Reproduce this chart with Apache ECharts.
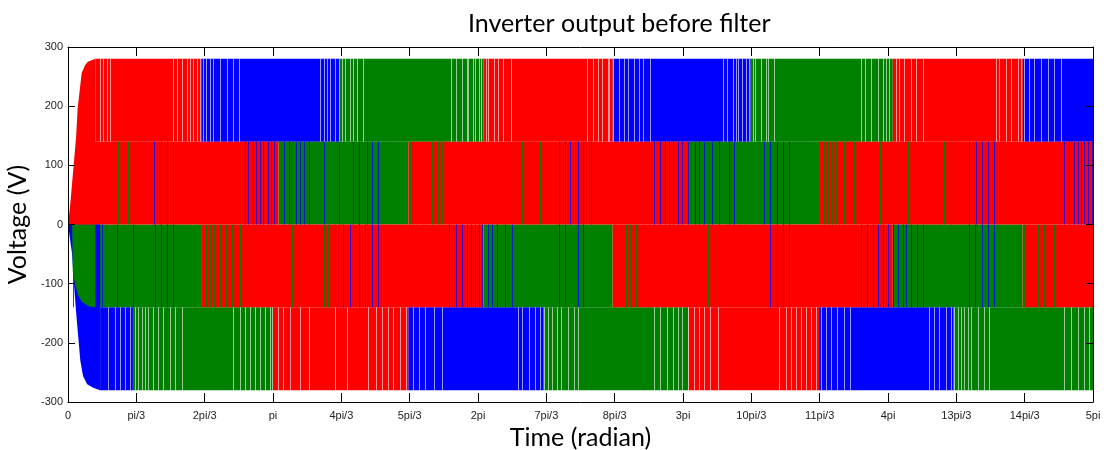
<!DOCTYPE html>
<html><head><meta charset="utf-8">
<script src="https://cdn.jsdelivr.net/npm/echarts@6/dist/echarts.min.js"></script>
<style>html,body{margin:0;padding:0;background:#fff}#c{width:1108px;height:450px}</style>
</head><body><div id="c"></div>
<script>
// x values are in units of pi/3 radians (0 .. 15 = 5pi)
const tickLabels = ['0','pi/3','2pi/3','pi','4pi/3','5pi/3','2pi','7pi/3','8pi/3','3pi','10pi/3','11pi/3','4pi','13pi/3','14pi/3','5pi'];

// solid regions [xStart, xEnd, vLow, vHigh] per phase
const redBlocks = [
  [0.40,1.96,140,280],[6.08,7.97,140,280],[12.07,13.97,140,280],
  [0.12,3.08,0,140],[4.98,9.08,0,140],[10.99,15,0,140],
  [1.96,6.08,-140,0],[7.97,12.07,-140,0],[13.97,15,-140,0],
  [3.00,4.98,-280,-140],[9.08,10.99,-280,-140]
];
const greenBlocks = [
  [3.98,6.08,140,280],[9.99,12.07,140,280],
  [3.08,4.98,0,140],[9.08,10.99,0,140],
  [0.40,1.96,-140,0],[6.08,7.97,-140,0],[12.07,13.97,-140,0],
  [0.95,3.00,-280,-140],[6.96,9.08,-280,-140],[12.96,15,-280,-140]
];
const blueBlocks = [
  [1.96,3.98,140,280],[7.97,9.99,140,280],[13.97,15,140,280],
  [0.47,0.95,-280,-140],[4.98,6.96,-280,-140],[10.99,12.96,-280,-140]
];

// start-up transients (envelopes)
const redRamp = [[0,0],[0.03,30],[0.06,70],[0.09,110],[0.12,150],[0.14,195],[0.20,256],[0.25,269],[0.29,275],[0.40,280]];
const blueRamp = [[0,0],[0.06,-50],[0.09,-105],[0.12,-150],[0.15,-190],[0.18,-230],[0.22,-256],[0.28,-270],[0.37,-276],[0.47,-280]];
const greenRamp = [[0.06,0],[0.07,-80],[0.10,-100],[0.15,-120],[0.20,-130],[0.30,-138],[0.40,-140]];

// brief switching pulses visible inside the middle bands
const greenUpperPulses = [0.26,0.35,0.66,0.73,0.80,0.88,5.01,5.05,5.11,5.19,5.23,5.33,5.41,5.48,6.28,6.37,6.65,6.74,6.81,6.90,
  11.06,11.12,11.18,11.24,11.29,11.35,11.43,11.50,11.60,11.70,11.89,12.29,12.66,12.74,12.82,12.92];
const blueUpperPulses = [1.26,1.36,1.45,1.54,2.59,2.64,2.70,2.75,2.81,2.86,2.92,2.97,3.02,
  3.16,3.24,3.33,3.40,3.46,3.52,3.74,3.96,4.17,4.26,4.37,4.45,4.54,
  7.18,7.27,7.35,7.46,7.54,7.65,8.57,8.67,8.74,8.79,8.86,8.92,8.99,9.08,
  9.17,9.23,9.30,9.43,9.52,9.67,9.74,10.18,10.27,10.37,10.46,10.55,
  13.18,13.29,13.37,13.46,13.55,14.57,14.65,14.72,14.78,14.82,14.87,14.93,14.99];
const greenLowerPulses = [2.02,2.08,2.14,2.23,2.31,2.40,2.52,3.28,3.65,3.74,3.81,3.91,
  8.01,8.09,8.16,8.23,8.31,8.41,8.50,9.29,9.36,9.65,9.73,9.82,9.90,
  13.99,14.06,14.12,14.19,14.28,14.35,14.43,14.50];
const blueLowerPulses = [0.07,0.16,0.22,0.28,0.35,0.42,0.50,0.72,0.95,1.27,1.36,1.45,1.54,
  4.03,4.13,4.26,4.35,4.45,4.54,5.58,5.68,5.77,5.84,5.90,5.96,6.01,6.06,
  6.14,6.21,6.28,6.40,6.50,7.18,7.28,7.46,7.54,
  10.27,10.37,10.46,10.55,11.60,11.70,11.78,11.85,11.92,12.00,12.07,
  12.14,12.22,12.26,12.33,12.42,12.51,13.18,13.27,13.37,13.46,13.55];

// instants where no phase sits on the outer levels (white gaps)
const topGaps = [0.47,0.51,0.57,0.62,1.54,1.60,1.67,1.74,1.79,1.83,1.89,1.93,1.98,2.02,2.08,2.12,2.23,2.33,2.42,2.50,
  3.69,3.74,3.79,3.84,3.91,3.96,4.01,4.06,4.13,4.17,4.23,4.32,5.60,5.68,5.77,5.84,5.86,5.92,5.96,6.01,6.05,
  6.11,6.15,6.23,6.30,6.37,6.49,7.60,7.68,7.75,7.82,7.90,7.92,7.98,8.06,8.13,8.20,8.28,8.35,8.42,8.51,
  9.58,9.65,9.73,9.77,9.81,9.87,9.92,9.96,10.02,10.06,10.14,10.21,10.25,10.33,
  11.60,11.67,11.75,11.85,11.92,11.97,12.01,12.11,12.16,12.23,12.33,12.41,12.51,
  13.58,13.62,13.73,13.80,13.90,13.94,13.99,14.06,14.14,14.24,14.34,14.43,14.53];
const bottomGaps = [0.59,0.69,0.76,0.83,0.91,0.98,1.03,1.08,1.13,1.17,1.25,1.32,1.39,1.49,1.57,1.67,
  2.42,2.52,2.59,2.67,2.74,2.81,2.89,2.96,2.99,3.08,3.15,3.25,3.40,3.52,3.91,4.09,4.39,4.50,4.60,4.69,4.76,4.86,4.94,
  5.05,5.13,5.23,5.35,5.48,6.59,6.65,6.74,6.84,6.91,6.96,7.02,7.09,7.16,7.21,7.31,7.40,7.47,
  8.57,8.67,8.77,8.86,8.93,8.99,9.08,9.16,9.23,9.30,9.40,9.51,10.40,10.50,10.58,10.65,10.72,10.80,10.87,10.94,
  11.02,11.09,11.16,11.26,11.35,11.45,12.60,12.67,12.74,12.85,12.92,12.96,13.02,13.07,13.11,13.17,13.21,13.32,13.40,13.48,
  14.57,14.68,14.78,14.87,14.94];

const RED = '#ff0000', GREEN = '#008000', BLUE = '#0000ff';

function rectItem(color) {
  return function (params, api) {
    const p0 = api.coord([api.value(0), api.value(3)]);
    const p1 = api.coord([api.value(1), api.value(2)]);
    return { type: 'rect', shape: { x: p0[0], y: p0[1], width: p1[0] - p0[0], height: p1[1] - p0[1] },
      style: { fill: color } };
  };
}
function lineItem(color, opacity) {
  return function (params, api) {
    const a = api.coord([api.value(0), api.value(2)]);
    const b = api.coord([api.value(0), api.value(1)]);
    const x = Math.round(a[0]) + 0.5;
    return { type: 'line', shape: { x1: x, y1: a[1], x2: x, y2: b[1] },
      style: { stroke: color, lineWidth: 1, opacity: opacity } };
  };
}
function blockSeries(data, color) {
  return { type: 'custom', renderItem: rectItem(color), data: data, encode: { x: [0, 1], y: [2, 3] }, silent: true };
}
function pulseSeries(xs, lo, hi, color, opacity) {
  return { type: 'custom', renderItem: lineItem(color, opacity), data: xs.map(x => [x, lo, hi]),
    encode: { x: 0, y: [1, 2] }, silent: true };
}
function rampSeries(data, color) {
  return { type: 'line', data: data, showSymbol: false, symbol: 'none', lineStyle: { width: 0 },
    areaStyle: { color: color, opacity: 1 }, silent: true };
}

const labelFont = { fontFamily: 'Liberation Sans', fontSize: 11, color: '#222' };
const tickStyle = { color: '#000', width: 1 };
const nameFont = { fontFamily: 'Lato', fontSize: 25, color: '#000' };

const chart = echarts.init(document.getElementById('c'), null, { renderer: 'canvas' });
chart.setOption({
  animation: false,
  backgroundColor: '#fff',
  title: { text: 'Inverter output before filter', left: 463, top: 6,
    textStyle: { fontFamily: 'Lato', fontSize: 25, fontWeight: 'normal', color: '#000' } },
  grid: { left: 68, right: 15, top: 47, bottom: 48, containLabel: false, outerBoundsMode: 'none' },
  xAxis: [
    { type: 'value', min: 0, max: 15, interval: 1, position: 'bottom', z: 10,
      axisLine: { onZero: false, lineStyle: tickStyle }, axisTick: { inside: true, length: 9, lineStyle: tickStyle },
      axisLabel: Object.assign({ margin: 8, formatter: v => tickLabels[Math.round(v)] }, labelFont),
      splitLine: { show: false },
      name: 'Time (radian)', nameLocation: 'middle', nameGap: 23, nameTextStyle: nameFont },
    { type: 'value', min: 0, max: 15, interval: 1, position: 'top', z: 10,
      axisLine: { onZero: false, lineStyle: tickStyle }, axisTick: { inside: true, length: 9, lineStyle: tickStyle },
      axisLabel: { show: false }, splitLine: { show: false } }
  ],
  yAxis: [
    { type: 'value', min: -300, max: 300, interval: 100, position: 'left', z: 10,
      axisLine: { show: true, onZero: false, lineStyle: tickStyle },
      axisTick: { show: true, inside: true, length: 7, lineStyle: tickStyle },
      axisLabel: Object.assign({ margin: 5 }, labelFont), splitLine: { show: false },
      name: 'Voltage (V)', nameLocation: 'middle', nameGap: 34, nameRotate: 90, nameTextStyle: nameFont },
    { type: 'value', min: -300, max: 300, interval: 100, position: 'right', z: 10,
      axisLine: { show: true, onZero: false, lineStyle: tickStyle },
      axisTick: { show: true, inside: true, length: 7, lineStyle: tickStyle },
      axisLabel: { show: false }, splitLine: { show: false } }
  ],
  series: [
    blockSeries(blueBlocks, BLUE),
    blockSeries(greenBlocks, GREEN),
    blockSeries(redBlocks, RED),
    rampSeries(blueRamp, BLUE),
    rampSeries(greenRamp, GREEN),
    rampSeries(redRamp, RED),
    pulseSeries(greenUpperPulses, 0, 140, GREEN, 0.9),
    pulseSeries(greenLowerPulses, -140, 0, GREEN, 0.9),
    pulseSeries(blueUpperPulses, 0, 140, BLUE, 0.8),
    pulseSeries(blueLowerPulses, -140, 0, BLUE, 0.8),
    pulseSeries(topGaps, 140, 280, '#ffffff', 0.6),
    pulseSeries(bottomGaps, -280, -140, '#ffffff', 0.6)
  ]
});
</script>
</body></html>
